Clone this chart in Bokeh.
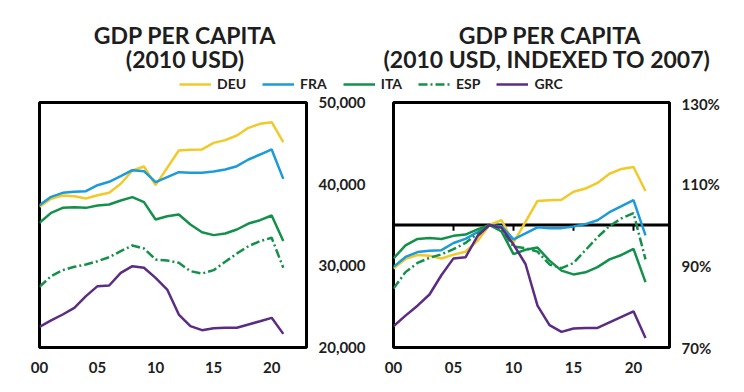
from bokeh.plotting import figure
from bokeh.layouts import column, row
from bokeh.models import (Range1d, Label, Legend, LegendItem, FixedTicker,
                          NumeralTickFormatter, PrintfTickFormatter, Span)
from bokeh.embed import file_html
from bokeh.resources import INLINE

# ---------------- data ----------------
years = list(range(2000, 2022))
deu = [37230, 38210, 38610, 38530, 38250, 38650, 38940, 40050, 41670, 42160, 39880,
       42000, 44120, 44200, 44250, 45060, 45390, 45960, 46900, 47390, 47590, 45140]
fra = [37430, 38450, 38940, 39070, 39140, 39870, 40290, 40980, 41710, 41590, 40240,
       40850, 41470, 41390, 41390, 41550, 41800, 42200, 43020, 43630, 44250, 40650]
ita = [35270, 36490, 37100, 37180, 37100, 37390, 37510, 38000, 38410, 37800, 35670,
       36080, 36290, 35060, 34120, 33760, 33960, 34450, 35180, 35590, 36160, 33040]
esp = [27430, 28740, 29470, 29880, 30160, 30570, 31060, 31800, 32490, 32120, 30780,
       30650, 30370, 29350, 29060, 29470, 30490, 31510, 32410, 33020, 33430, 29760]
grc = [22530, 23310, 24040, 24860, 26290, 27510, 27590, 29140, 29960, 29760, 28530,
       27100, 24040, 22610, 22120, 22370, 22410, 22410, 22820, 23220, 23630, 21670]
countries = ["DEU", "FRA", "ITA", "ESP", "GRC"]
series = [deu, fra, ita, esp, grc]
base_pos = 8  # the point that is 100% in the indexed chart

tick_years = [2000, 2005, 2010, 2015, 2020]
tick_labels = ["00", "05", "10", "15", "20"]
level_ticks = [20000, 30000, 40000, 50000]
index_ticks = [70, 90, 110, 130]

colors = ["#F3C928", "#1B9BD7", "#13914B", "#13914B", "#5B2C83"]
dashes = ["solid", "solid", "solid", "9 3 2 3", "solid"]

FONT = "Lato"
TXT = "#1e1e1e"

indexed = [[v / s[base_pos] * 100 for v in s] for s in series]


def chart(frame_w, left_b, right_b, yr, ticks, fmt):
    p = figure(frame_width=frame_w, frame_height=245,
               x_range=Range1d(2000, 2023), y_range=yr,
               output_backend="svg", toolbar_location=None,
               y_axis_location="right",
               min_border_left=left_b, min_border_right=right_b,
               min_border_top=8, min_border_bottom=37)
    p.grid.visible = False
    p.outline_line_color = "black"
    p.outline_line_width = 3
    p.background_fill_color = "white"
    p.border_fill_color = "white"
    for ax in (p.xaxis[0], p.yaxis[0]):
        ax.axis_line_color = None
        ax.major_tick_line_color = None
        ax.minor_tick_line_color = None
        ax.major_label_text_font = FONT
        ax.major_label_text_font_style = "bold"
        ax.major_label_text_font_size = "15px"
        ax.major_label_text_color = TXT
    p.xaxis.ticker = FixedTicker(ticks=tick_years)
    p.xaxis.major_label_overrides = dict(zip(tick_years, tick_labels))
    p.xaxis.major_label_standoff = 8
    p.yaxis.ticker = FixedTicker(ticks=ticks)
    p.yaxis.formatter = fmt
    p.yaxis.major_label_standoff = 6
    return p


left = chart(267, 39, 65, Range1d(20000, 50000), level_ticks,
             NumeralTickFormatter(format="0,0"))
for s, c, d in zip(series, colors, dashes):
    left.line(years, s, line_color=c, line_width=2.5, line_dash=d)

right = chart(276, 22, 66, Range1d(70, 130), index_ticks,
              PrintfTickFormatter(format="%d%%"))
right.add_layout(Span(location=100, dimension="width", line_color="black",
                      line_width=3, level="underlay"))
right.segment(x0=tick_years[1:], y0=[100] * 4, x1=tick_years[1:], y1=[98.6] * 4,
              line_color="black", line_width=2)
for s, c, d in zip(indexed, colors, dashes):
    right.line(years, s, line_color=c, line_width=2.5, line_dash=d)

# ---------------- header: titles + legend ----------------
top = figure(width=735, height=94, x_range=Range1d(0, 735), y_range=Range1d(0, 94),
             output_backend="svg", toolbar_location=None,
             x_axis_type=None, y_axis_type=None, min_border=0,
             outline_line_color=None)
top.grid.visible = False

titles = [(184.5, 60, "GDP PER CAPITA"), (184.5, 36, "(2010 USD)"),
          (549.5, 60, "GDP PER CAPITA"), (546.5, 36, "(2010 USD, INDEXED TO 2007)")]
for x, y, t in titles:
    top.add_layout(Label(x=x, y=y, text=t, text_align="center", text_baseline="middle",
                         text_font=FONT, text_font_style="bold", text_font_size="23px",
                         text_color=TXT))

items = []
nan = float("nan")
for name, c, d in zip(countries, colors, dashes):
    r = top.line(x=[nan], y=[nan], line_color=c, line_width=2.5, line_dash=d)
    items.append(LegendItem(label=name, renderers=[r]))
legend = Legend(items=items, orientation="horizontal", location=(179, 2),
                glyph_width=32, glyph_height=14, label_height=14, label_standoff=6,
                spacing=16, padding=0, margin=0, border_line_color=None,
                background_fill_alpha=0, label_text_font=FONT,
                label_text_font_style="bold", label_text_font_size="14px",
                label_text_color=TXT)
top.add_layout(legend)

layout = column(top, row(left, right))
open("out.html", "w").write(file_html(layout, INLINE))
